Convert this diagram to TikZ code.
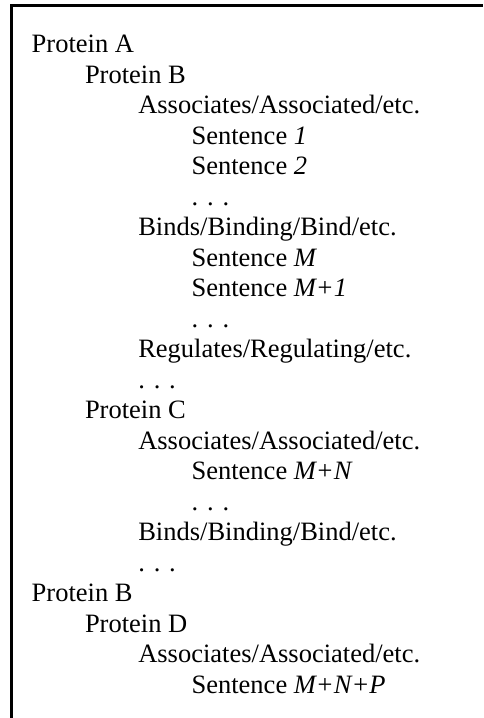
\documentclass[tikz,border=0pt]{standalone}
\usepackage{fontspec}
\setmainfont{Liberation Serif}
\usepackage{tikz}
\newcommand{\entryfont}{\fontsize{26.5}{30.5}\selectfont}
\tikzstyle{entry} = [
    anchor=base west,
    inner sep=0pt,
    outer sep=0pt,
    font=\entryfont
]
\tikzstyle{frame} = [line width=2.1pt, draw=black]

\begin{document}
\begin{tikzpicture}[x=1pt, y=1pt]

\useasboundingbox (0,0) rectangle (483,-718);

% open frame along the top and left
\draw [frame] (11.5,-718) -- (11.5,-5.5) -- (483,-5.5);

\node (protA) [entry] at (31.7,-52.7) {Protein A};
\node (protAB) [entry] at (85.0,-83.2) {Protein B};
\node (assocAB) [entry] at (138.3,-113.7) {Associates/Associated/etc.};
\node (sentA) [entry] at (191.6,-144.2) {Sentence \textit{1}};
\node (sentB) [entry] at (191.6,-174.7) {Sentence \textit{2}};
\node (moreA) [entry] at (191.6,-205.2) {. . .};
\node (bindAB) [entry] at (138.3,-235.7) {Binds/Binding/Bind/etc.};
\node (sentM) [entry] at (191.6,-266.2) {Sentence \textit{M}};
\node (sentMA) [entry] at (191.6,-296.7) {Sentence \textit{M+1}};
\node (moreB) [entry] at (191.6,-327.2) {. . .};
\node (regAB) [entry] at (138.3,-357.7) {Regulates/Regulating/etc.};
\node (moreC) [entry] at (138.3,-388.2) {. . .};

\node (protAC) [entry] at (85.0,-418.7) {Protein C};
\node (assocAC) [entry] at (138.3,-449.2) {Associates/Associated/etc.};
\node (sentMN) [entry] at (191.6,-479.7) {Sentence \textit{M+N}};
\node (moreD) [entry] at (191.6,-510.2) {. . .};
\node (bindAC) [entry] at (138.3,-540.7) {Binds/Binding/Bind/etc.};
\node (moreE) [entry] at (138.3,-571.2) {. . .};

\node (protB) [entry] at (31.7,-601.7) {Protein B};
\node (protBD) [entry] at (85.0,-632.2) {Protein D};
\node (assocBD) [entry] at (138.3,-662.7) {Associates/Associated/etc.};
\node (sentMNP) [entry] at (191.6,-693.2) {Sentence \textit{M+N+P}};

\end{tikzpicture}
\end{document}
